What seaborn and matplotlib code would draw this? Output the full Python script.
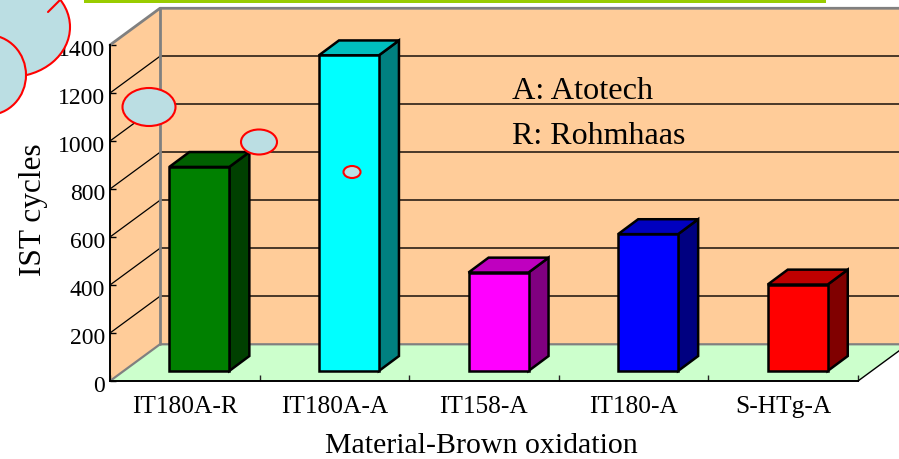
import numpy as np
import matplotlib
matplotlib.use("Agg")
import matplotlib.pyplot as plt
import seaborn as sns
from matplotlib.colors import to_rgb
from matplotlib.patches import Ellipse, Polygon, Rectangle
from matplotlib.transforms import Affine2D

# Data
materials = ["IT180A-R", "IT180A-A", "IT158-A", "IT180-A", "S-HTg-A"]
ist_cycles = [850, 1315, 410, 570, 360]
bar_colors = ["#008000", "#00FFFF", "#FF00FF", "#0000FF", "#FF0000"]
y_ticks = [0, 200, 400, 600, 800, 1000, 1200, 1400]

# Fake 3D depth, in data units (1 category = 149.6 px, 1 cycle = 0.24 px)
wall_dx, wall_dy = 0.334, 153
bar_dx, bar_dy = 0.097, 42
side_dx, side_dy = 0.134, 62

WALL = "#FFCC99"
FLOOR = "#CCFFCC"
EDGE = "#808080"

W, H = 899, 459

sns.set_style("white")
plt.rcParams["font.family"] = ["Liberation Serif", "DejaVu Serif"]

fig = plt.figure(figsize=(W / 100, H / 100), dpi=100)
ax = fig.add_axes([110 / W, (H - 381) / H, 748 / W, 336 / H])

sns.barplot(x=materials, y=ist_cycles, hue=materials, palette=bar_colors, dodge=False,
            width=0.401, edgecolor="black", linewidth=1.8, saturation=1, legend=False, ax=ax)
ax.set_xlim(-0.5, len(materials) - 0.5)
ax.set_ylim(0, 1400)
ax.patch.set_visible(False)

left, right = ax.get_xlim()
top = y_ticks[-1]

# Walls and floor
ax.add_patch(Polygon([(left, 0), (left + wall_dx, wall_dy), (left + wall_dx, top + wall_dy), (left, top)],
                     fc=WALL, ec="none", clip_on=False, zorder=0))
ax.add_patch(Rectangle((left + wall_dx, wall_dy), right - left, top, fc=WALL, ec="none", clip_on=False, zorder=0))
ax.add_patch(Polygon([(left, 0), (right, 0), (right + wall_dx, wall_dy), (left + wall_dx, wall_dy)],
                     fc=FLOOR, ec="none", clip_on=False, zorder=0.2))

# Grid lines, running across the left wall and along the back
for v in y_ticks[1:-1]:
    ax.plot([left, left + wall_dx], [v, v + wall_dy], color="black", lw=0.9, clip_on=False, zorder=0.5)
    ax.plot([left + wall_dx, right + wall_dx], [v + wall_dy, v + wall_dy], color="#2a1e16", lw=1.2,
            clip_on=False, zorder=0.5)

# Grey wall edges
ax.plot([left, left + wall_dx, right + wall_dx], [top, top + wall_dy, top + wall_dy], color=EDGE, lw=2,
        clip_on=False, zorder=0.6)
ax.plot([left + wall_dx, left + wall_dx], [wall_dy, top + wall_dy], color=EDGE, lw=2, clip_on=False, zorder=0.6)
ax.plot([left, left + wall_dx, right + wall_dx], [0, wall_dy, wall_dy], color=EDGE, lw=1.6, clip_on=False, zorder=0.6)
ax.plot([right, right + wall_dx], [0, wall_dy], color="black", lw=1, clip_on=False, zorder=0.6)

# Push the bars back onto the floor and add their top and side faces
for bar, c in zip(ax.patches[:len(materials)], bar_colors):
    x0 = bar.get_x() + bar_dx
    x1 = x0 + bar.get_width()
    y0 = bar_dy
    y1 = y0 + bar.get_height()
    bar.set_x(x0)
    bar.set_y(y0)
    bar.set_zorder(3)
    bar.set_clip_on(False)
    rgb = np.array(to_rgb(c))
    ax.add_patch(Polygon([(x1, y0), (x1 + side_dx, y0 + side_dy), (x1 + side_dx, y1 + side_dy), (x1, y1)],
                         fc=rgb * 0.5, ec="black", lw=1.8, joinstyle="miter", clip_on=False, zorder=2.9))
    ax.add_patch(Polygon([(x0, y1), (x1, y1), (x1 + side_dx, y1 + side_dy), (x0 + side_dx, y1 + side_dy)],
                         fc=rgb * 0.75, ec="black", lw=1.8, joinstyle="miter", clip_on=False, zorder=2.9))

# Axes
sns.despine(ax=ax)
for s in ["left", "bottom"]:
    ax.spines[s].set_color("black")
    ax.spines[s].set_linewidth(1.4)
    ax.spines[s].set_zorder(2)
ax.set_yticks(y_ticks)
ax.set_xticks(np.arange(left, right + 1), minor=True)
ax.tick_params(axis="y", direction="in", length=4, width=1, left=True, pad=3.5, labelsize=17, colors="black")
ax.tick_params(axis="x", which="major", length=0, pad=11, labelsize=18.3, colors="black")
ax.tick_params(axis="x", which="minor", direction="in", length=4, width=1, bottom=True)
for lab in ax.get_yticklabels():
    lab.set_transform(lab.get_transform() + Affine2D().translate(0, -2.5))
ax.set_xlabel("Material-Brown oxidation", fontsize=21.5, labelpad=10.5, color="black", x=0.497)
ax.set_ylabel("IST cycles", fontsize=22.5, labelpad=7, color="black", y=0.51)

fig.text(512 / W, 1 - 91.5 / H, "A: Atotech", fontsize=23.2, va="center", color="black")
fig.text(512 / W, 1 - 137 / H, "R: Rohmhaas", fontsize=23, va="center", color="black")

# Slide decoration, in pixels from the top left of the picture
px = Affine2D().scale(1, -1).translate(0, H)
fig.add_artist(Rectangle((84, 0), 742, 3, fc="#99CC00", ec="none", transform=px))
BLOB = "#BBDEE3"
for cx, cy, w, h in [(10, 27, 120, 100), (-12, 75, 76, 80), (149, 107, 53, 38), (259, 142, 36, 25), (352, 172, 17, 12)]:
    fig.add_artist(Ellipse((cx, cy), w, h, fc=BLOB, ec="#FF0000", lw=1.5, transform=px, zorder=5))
fig.add_artist(plt.Line2D([48, 60], [12, 0], color="#FF0000", lw=1.5, transform=px, zorder=5))

fig.savefig("out.png", dpi=100)
